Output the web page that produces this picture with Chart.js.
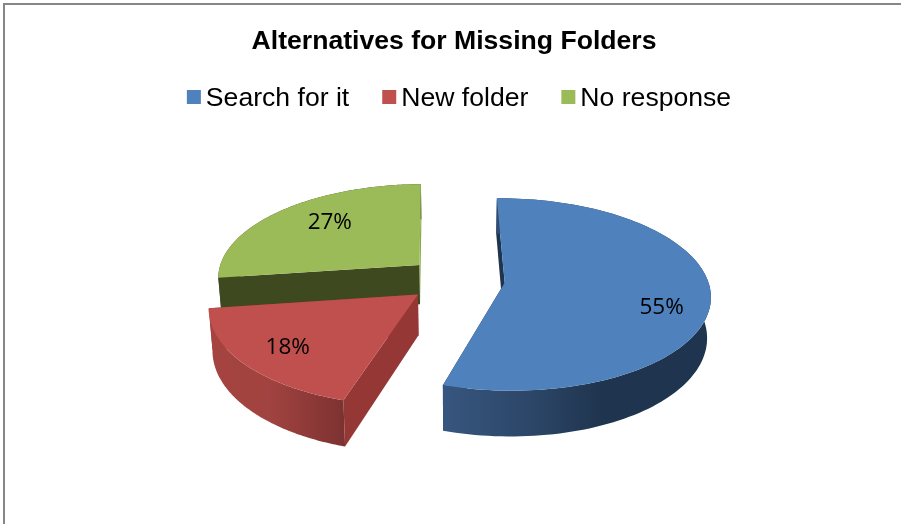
<!DOCTYPE html>
<html><head><meta charset="utf-8">
<style>html,body{margin:0;padding:0;background:#fff}#wrap{position:relative;width:901px;height:524px}canvas{display:block}</style>
<script src="https://cdn.jsdelivr.net/npm/chart.js@4/dist/chart.umd.min.js"></script>
</head><body><div id="wrap"><canvas id="c" width="901" height="524"></canvas></div>
<script>
const categories = ['Search for it', 'New folder', 'No response'];
const percentages = [55, 18, 27];
const chartTitle = 'Alternatives for Missing Folders';
const topColors = ['#4f81bd', '#c0504d', '#9bbb59'];
const rimStops = [
  [[0, '#37567f'], [0.35, '#2b4566'], [0.6, '#1f344e'], [1, '#1f344e']],
  [[0, '#a5433f'], [0.45, '#a14340'], [1, '#7d3231']],
  [[0, '#3f4920'], [1, '#3f4920']]
];
const startFaceColors = ['#1f344e', '#953735', '#3f4920'];
const endFaceColors = ['#1f344e', '#953735', '#8aa84e'];
const labelNudge = [[-5, 14], [-4, 3], [14, -1]];
const TILT = 0.463, PERSPECTIVE = 0.0006, DEPTH = 40, SHRINK = 0.985, LABEL_R = [160, 150, 150], PIE_SHIFT = 2;

const pie3d = {
  id: 'pie3d',
  beforeDraw(chart) {
    const c = chart.ctx;
    c.save();
    c.fillStyle = '#fff'; c.fillRect(0, 0, chart.width, chart.height);
    c.fillStyle = '#868686';
    c.fillRect(3, 3, chart.width - 3, 2);
    c.fillRect(3, 3, 2, chart.height - 3);
    c.restore();
  },
  beforeDatasetsDraw(chart) {
    const c = chart.ctx, area = chart.chartArea;
    const cx = (area.left + area.right) / 2 + PIE_SHIFT, cy = (area.top + area.bottom) / 2;
    const proj = (u, v, low) => {
      const s = 1 / (1 - PERSPECTIVE * v);
      return [cx + u * s * (low ? SHRINK : 1), cy + TILT * v * s + (low ? DEPTH * s : 0)];
    };
    const arcs = chart.getDatasetMeta(0).data;
    const shapes = arcs.map(el => {
      const mid = (el.startAngle + el.endAngle) / 2, d = el.options.offset / 4;
      const ou = Math.cos(mid) * d, ov = Math.sin(mid) * d, r = el.outerRadius, rim = [];
      const n = 120;
      for (let i = 0; i <= n; i++) {
        const a = el.startAngle + (el.endAngle - el.startAngle) * i / n;
        rim.push([ou + Math.cos(a) * r, ov + Math.sin(a) * r]);
      }
      return { el, mid, ou, ov, rim };
    });
    const path = pts => {
      c.beginPath();
      pts.forEach((p, i) => i ? c.lineTo(p[0], p[1]) : c.moveTo(p[0], p[1]));
      c.closePath();
    };
    const order = [2, 0, 1];
    order.forEach(i => {
      const sh = shapes[i];
      const apex = [sh.ou, sh.ov];
      const first = sh.rim[0], last = sh.rim[sh.rim.length - 1];
      const upper = sh.rim.map(p => proj(p[0], p[1]));
      const lower = sh.rim.map(p => proj(p[0], p[1], true)).reverse();
      const wall = () => {
        const xs = upper.filter((p, k) => sh.rim[k][1] > 0 || i === 2).map(p => p[0]);
        const g = c.createLinearGradient(Math.min(...xs), 0, Math.max(...xs), 0);
        rimStops[i].forEach(s => g.addColorStop(s[0], s[1]));
        path(upper.concat(lower));
        c.fillStyle = g; c.fill();
      };
      const faces = () => {
        [[first, startFaceColors[i]], [last, endFaceColors[i]]].forEach(([p, col]) => {
          path([proj(apex[0], apex[1]), proj(p[0], p[1]), proj(p[0], p[1], true), proj(apex[0], apex[1], true)]);
          c.fillStyle = col; c.fill();
        });
      };
      // the back slice shows its end face in front of its wall; the others hide it behind the wall
      if (i === 2) { wall(); faces(); } else { faces(); wall(); }
      // top surface
      path([proj(apex[0], apex[1])].concat(upper));
      c.fillStyle = sh.el.options.backgroundColor; c.fill();
    });
    // value labels
    c.fillStyle = '#000';
    c.font = '22.5px "Open Sans"';
    c.textAlign = 'center'; c.textBaseline = 'middle';
    shapes.forEach((sh, i) => {
      const r = LABEL_R[i];
      const p = proj(sh.ou + Math.cos(sh.mid) * r, sh.ov + Math.sin(sh.mid) * r);
      c.fillText(percentages[i] + '%', p[0] + labelNudge[i][0], p[1] + labelNudge[i][1]);
    });
    // legend
    c.font = '26.6px "Liberation Sans"';
    c.textAlign = 'left';
    const box = 14, gap = 5, sep = 33;
    const widths = categories.map(t => c.measureText(t).width);
    const total = widths.reduce((a, w) => a + w + box + gap, 0) + sep * (categories.length - 1);
    let x = 459 - total / 2;
    categories.forEach((t, i) => {
      c.fillStyle = topColors[i];
      c.fillRect(x, 90, box, box);
      c.fillStyle = '#000';
      c.fillText(t, x + box + gap, 99);
      x += box + gap + widths[i] + sep;
    });
    return false;
  }
};

new Chart(document.getElementById('c'), {
  type: 'pie',
  data: {
    labels: categories,
    datasets: [{ data: percentages, backgroundColor: topColors, borderWidth: 0, offset: 196, radius: 203 }]
  },
  options: {
    responsive: false,
    animation: false,
    rotation: -0.8,
    events: [],
    layout: { padding: { left: 7, right: 0, top: 0, bottom: 41 } },
    plugins: {
      legend: { display: false },
      tooltip: { enabled: false },
      title: {
        display: true, text: chartTitle, color: '#000',
        font: { family: '"Liberation Sans"', size: 26.6, weight: 'bold' },
        padding: { top: 26, bottom: 18 }
      }
    }
  },
  plugins: [pie3d]
});
</script></body></html>
